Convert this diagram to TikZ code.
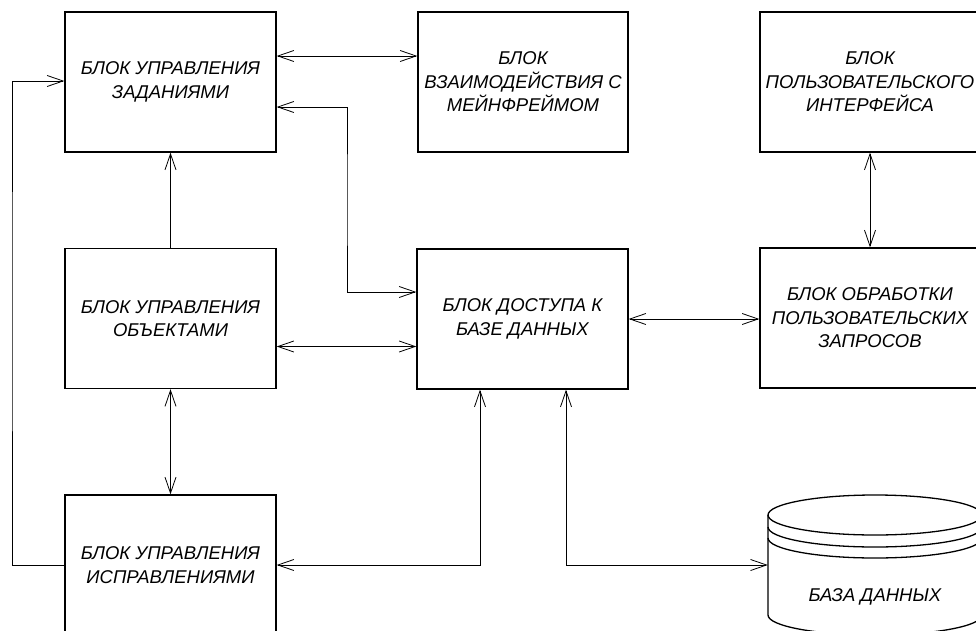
\documentclass[tikz,border=0pt]{standalone}
\usepackage{fontspec}
\setmainfont{Liberation Sans}
\usetikzlibrary{arrows.meta}

\begin{document}
\begin{tikzpicture}[x=1pt,y=1pt,
    >={Straight Barb[length=16pt,width=11pt]},
    blk/.style={draw=black,line width=1.3pt,rectangle,minimum height=140pt,align=center,
      font=\itshape\fontsize{18.5}{23.5}\selectfont},
    lnk/.style={draw=black,line width=0.8pt},
    cyl/.style={draw=black,line width=1.3pt}]
  \tikzstyle{every node}+=[inner sep=0pt]
  \useasboundingbox (0,0) rectangle (976,-631);
  \node [blk,minimum width=211pt] (tasks) at (170.5,-82) {БЛОК УПРАВЛЕНИЯ\\ЗАДАНИЯМИ};
  \node [blk,minimum width=210pt] (mainfr) at (523,-82) {БЛОК\\ВЗАИМОДЕЙСТВИЯ С\\МЕЙНФРЕЙМОМ};
  \node [blk,minimum width=220pt] (ui) at (870,-82) {БЛОК\\ПОЛЬЗОВАТЕЛЬСКОГО\\ИНТЕРФЕЙСА};
  \node [blk,minimum width=211pt] (objects) at (170.5,-318.5) {БЛОК УПРАВЛЕНИЯ\\ОБЪЕКТАМИ};
  \node [blk,minimum width=211pt] (dbaccess) at (522.5,-319) {БЛОК ДОСТУПА К\\БАЗЕ ДАННЫХ};
  \node [blk,minimum width=220pt] (queries) at (870,-318) {БЛОК ОБРАБОТКИ\\ПОЛЬЗОВАТЕЛЬСКИХ\\ЗАПРОСОВ};
  \node [blk,minimum width=211pt] (fixes) at (170.5,-565) {БЛОК УПРАВЛЕНИЯ\\ИСПРАВЛЕНИЯМИ};
  \node [minimum width=214pt,minimum height=140pt] (db) at (875,-565) {};
  \node [font=\itshape\fontsize{18.5}{23.5}\selectfont] (dblabel) at (875,-597) {БАЗА ДАННЫХ};
  \draw [cyl] (768,-515) arc[start angle=180,end angle=-180,x radius=107,y radius=20];
  \draw [cyl] (768,-527) arc[start angle=180,end angle=360,x radius=107,y radius=20];
  \draw [cyl] (768,-538) arc[start angle=180,end angle=360,x radius=107,y radius=20];
  \draw [cyl] (768,-515) -- (768,-615) arc[start angle=180,end angle=360,x radius=107,y radius=20] -- (982,-515);
  \coordinate (loop) at (12,-300);
  \coordinate (bend) at (347,-200);
  \draw [lnk,<->] ([yshift=26pt]tasks.east) -- ([yshift=26pt]tasks.east -| mainfr.west);
  \draw [lnk,->] (objects.north) -- (tasks.south);
  \draw [lnk,<->] ([yshift=-25pt]tasks.east) -| (bend) |- ([yshift=27pt]dbaccess.west);
  \draw [lnk,->] (fixes.west) -| (loop) |- ([yshift=1pt]tasks.west);
  \draw [lnk,<->] ([yshift=-28pt]objects.east) -- ([yshift=-28pt]objects.east -| dbaccess.west);
  \draw [lnk,<->] (objects.south) -- (fixes.north);
  \draw [lnk,<->] (fixes.east) -| ([xshift=-42.5pt]dbaccess.south);
  \draw [lnk,<->] ([xshift=43.5pt]dbaccess.south) |- (db.west);
  \draw [lnk,<->] (dbaccess.east) -- (dbaccess.east -| queries.west);
  \draw [lnk,<->] (ui.south) -- (queries.north);
\end{tikzpicture}
\end{document}
